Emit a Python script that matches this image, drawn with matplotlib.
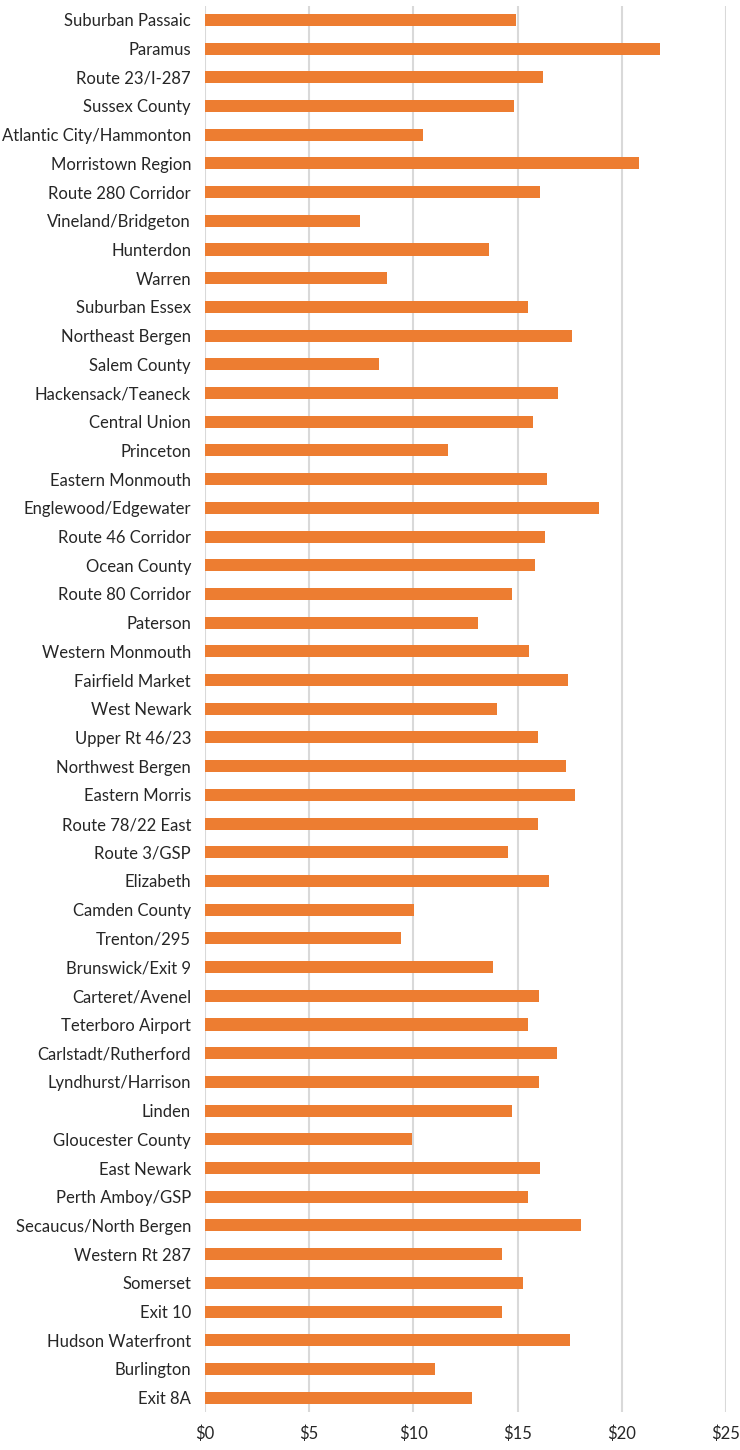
import matplotlib
matplotlib.use("Agg")
import matplotlib.pyplot as plt
from matplotlib.ticker import FuncFormatter

regions = [
    "Suburban Passaic", "Paramus", "Route 23/I-287", "Sussex County",
    "Atlantic City/Hammonton", "Morristown Region", "Route 280 Corridor",
    "Vineland/Bridgeton", "Hunterdon", "Warren", "Suburban Essex",
    "Northeast Bergen", "Salem County", "Hackensack/Teaneck", "Central Union",
    "Princeton", "Eastern Monmouth", "Englewood/Edgewater", "Route 46 Corridor",
    "Ocean County", "Route 80 Corridor", "Paterson", "Western Monmouth",
    "Fairfield Market", "West Newark", "Upper Rt 46/23", "Northwest Bergen",
    "Eastern Morris", "Route 78/22 East", "Route 3/GSP", "Elizabeth",
    "Camden County", "Trenton/295", "Brunswick/Exit 9", "Carteret/Avenel",
    "Teterboro Airport", "Carlstadt/Rutherford", "Lyndhurst/Harrison",
    "Linden", "Gloucester County", "East Newark", "Perth Amboy/GSP",
    "Secaucus/North Bergen", "Western Rt 287", "Somerset", "Exit 10",
    "Hudson Waterfront", "Burlington", "Exit 8A",
]

rent = [
    14.92, 21.84, 16.24, 14.83, 10.48, 20.84, 16.10, 7.44, 13.61, 8.75,
    15.49, 17.62, 8.37, 16.94, 15.76, 11.68, 16.39, 18.89, 16.33, 15.85,
    14.74, 13.08, 15.56, 17.41, 13.99, 15.96, 17.32, 17.78, 15.96, 14.54,
    16.49, 10.02, 9.39, 13.81, 16.03, 15.49, 16.87, 16.03, 14.74, 9.93,
    16.10, 15.49, 18.05, 14.26, 15.26, 14.26, 17.51, 11.02, 12.82,
]

x_ticks = [0, 5, 10, 15, 20, 25]

plt.rcParams["font.family"] = ["Lato", "DejaVu Sans"]

fig = plt.figure(figsize=(7.4, 14.5), dpi=100)
ax = fig.add_axes([0.277, 0.0262, 0.704, 0.970])

pos = list(range(len(regions)))
ax.barh(pos, rent, height=0.42, color="#ED7D31", zorder=3)

ax.set_ylim(len(regions) - 0.5, -0.5)
ax.set_yticks(pos)
ax.set_yticklabels(regions, fontsize=12, color="#262626")

ax.set_xlim(0, 25)
ax.set_xticks(x_ticks)
ax.xaxis.set_major_formatter(FuncFormatter(lambda v, p: f"${v:.0f}"))
ax.tick_params(axis="x", labelsize=12, colors="#262626", length=0, pad=10)
ax.tick_params(axis="y", length=0, pad=10)

ax.grid(axis="x", color="#d9d9d9", linewidth=1.5, zorder=0)
ax.grid(axis="y", visible=False)
for s in ax.spines.values():
    s.set_visible(False)

fig.savefig("out.png", dpi=100)
